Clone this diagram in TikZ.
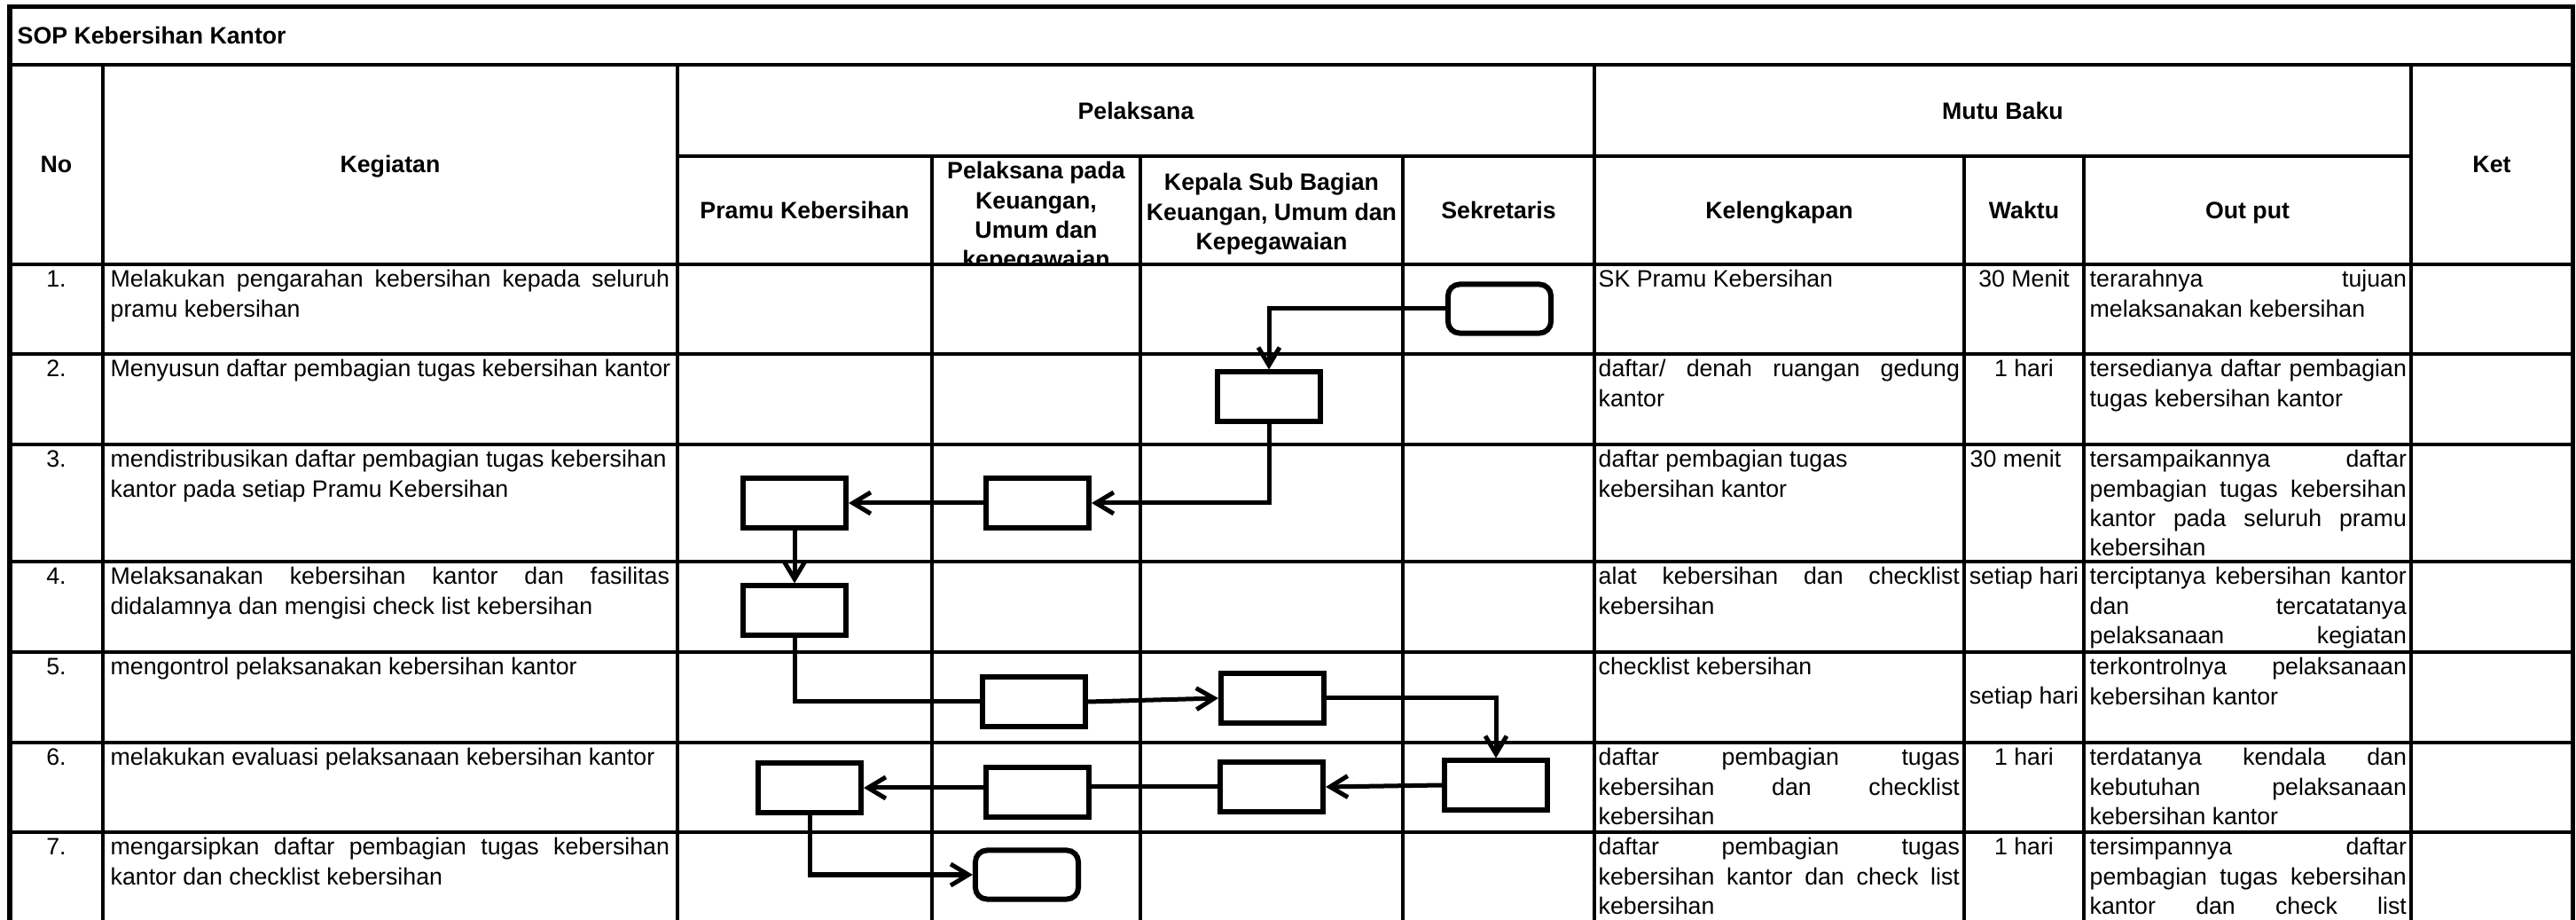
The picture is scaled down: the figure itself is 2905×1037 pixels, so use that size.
\documentclass[tikz,border=0pt]{standalone}
\usepackage{fontspec}
\setmainfont{Liberation Sans}
\usetikzlibrary{arrows.meta}
\newcommand\cellv[2]{\vtop{\hsize=#1\baselineskip=9.39pt\lineskiplimit=-100pt\lineskip=0pt #2}}
\newcommand\lnJ[1]{\hbox to\hsize{#1}}
\newcommand\lnL[1]{\hbox{#1}}
\newcommand\lnC[1]{\hbox to\hsize{\hfil#1\hfil}}
\tikzset{
  gridline/.style={line width=0.035cm},
  outerline/.style={line width=0.05cm},
  txt/.style={inner sep=0pt, font=\fontsize{7.6pt}{9.39pt}\selectfont},
  hd/.style={inner sep=0pt, font=\bfseries\fontsize{7.6pt}{9.39pt}\selectfont},
  stepbox/.style={draw, line width=0.06cm, fill=white, minimum width=1.16cm, minimum height=0.55cm, inner sep=0pt},
  termbox/.style={stepbox, rounded corners=0.13cm},
  flow/.style={line width=0.05cm, -{Straight Barb[length=0.2cm,width=0.24cm]}},
  link/.style={line width=0.05cm},
}
\begin{document}
\begin{tikzpicture}[x=0.01cm,y=-0.01cm]
\useasboundingbox (0,0) rectangle (2905,1037);
\clip (0,0) rectangle (2905,1037);

% ---------- header texts ----------
\node[hd, anchor=base west] (title) at (19,50) {SOP Kebersihan Kantor};
\node[hd, anchor=base] (hno) at (63.5,195) {No};
\node[hd, anchor=base] (hkeg) at (440,195) {Kegiatan};
\node[hd, anchor=base] (hpel) at (1281,135) {Pelaksana};
\node[hd, anchor=base] (hmutu) at (2258.5,135) {Mutu Baku};
\node[hd, anchor=base] (hket) at (2810,195) {Ket};
\node[hd, anchor=base] (hpramu) at (907.5,247) {Pramu Kebersihan};
\begin{scope}
  \clip (1051,176) rectangle (1286,298);
  \node[hd, anchor=base] (hpp) at (1168.5,202) {\cellv{2.30cm}{\lnC{Pelaksana pada}\lnC{Keuangan,}\lnC{Umum dan}\lnC{kepegawaian}}};
\end{scope}
\node[hd, anchor=base] (hkep) at (1434,215) {\cellv{2.94cm}{\lnC{Kepala Sub Bagian}\lnC{Keuangan, Umum dan}\lnC{Kepegawaian}}};
\node[hd, anchor=base] (hsek) at (1690,247) {Sekretaris};
\node[hd, anchor=base] (hkel) at (2006.5,247) {Kelengkapan};
\node[hd, anchor=base] (hwak) at (2282.5,247) {Waktu};
\node[hd, anchor=base] (hout) at (2534.5,247) {Out put};

% ---------- row 1 ----------
\node[txt, anchor=base] (n1) at (63.5,324) {1.};
\node[txt, anchor=base west] (k1) at (124,324) {\cellv{6.30cm}{\lnJ{Melakukan pengarahan kebersihan kepada seluruh}\lnL{pramu kebersihan}}};
\node[txt, anchor=base west] (l1) at (1802,324) {SK Pramu Kebersihan};
\node[txt, anchor=base] (w1) at (2282.5,324) {30 Menit};
\node[txt, anchor=base west] (o1) at (2356,324) {\cellv{3.57cm}{\lnJ{terarahnya tujuan}\lnL{melaksanakan kebersihan}}};

% ---------- row 2 ----------
\node[txt, anchor=base] (n2) at (63.5,425) {2.};
\node[txt, anchor=base west] (k2) at (124,425) {Menyusun daftar pembagian tugas kebersihan kantor};
\node[txt, anchor=base west] (l2) at (1802,425) {\cellv{4.07cm}{\lnJ{daftar/ denah ruangan gedung}\lnL{kantor}}};
\node[txt, anchor=base] (w2) at (2282.5,425) {1 hari};
\node[txt, anchor=base west] (o2) at (2356,425) {\cellv{3.57cm}{\lnJ{tersedianya daftar pembagian}\lnL{tugas kebersihan kantor}}};

% ---------- row 3 ----------
\node[txt, anchor=base] (n3) at (63.5,527) {3.};
\node[txt, anchor=base west] (k3) at (124,527) {\cellv{6.30cm}{\lnL{mendistribusikan daftar pembagian tugas kebersihan}\lnL{kantor pada setiap Pramu Kebersihan}}};
\node[txt, anchor=base west] (l3) at (1802,527) {\cellv{4.07cm}{\lnL{daftar pembagian tugas}\lnL{kebersihan kantor}}};
\node[txt, anchor=base west] (w3) at (2221,527) {30 menit};
\node[txt, anchor=base west] (o3) at (2356,527) {\cellv{3.57cm}{\lnJ{tersampaikannya daftar}\lnJ{pembagian tugas kebersihan}\lnJ{kantor pada seluruh pramu}\lnL{kebersihan}}};

% ---------- row 4 ----------
\node[txt, anchor=base] (n4) at (63.5,659) {4.};
\node[txt, anchor=base west] (k4) at (124,659) {\cellv{6.30cm}{\lnJ{Melaksanakan kebersihan kantor dan fasilitas}\lnL{didalamnya dan mengisi check list kebersihan}}};
\node[txt, anchor=base west] (l4) at (1802,659) {\cellv{4.07cm}{\lnJ{alat kebersihan dan checklist}\lnL{kebersihan}}};
\node[txt, anchor=base] (w4) at (2282.5,659) {setiap hari};
\node[txt, anchor=base west] (o4) at (2356,659) {\cellv{3.57cm}{\lnJ{terciptanya kebersihan kantor}\lnJ{dan tercatatanya}\lnJ{pelaksanaan kegiatan}}};

% ---------- row 5 ----------
\node[txt, anchor=base] (n5) at (63.5,761) {5.};
\node[txt, anchor=base west] (k5) at (124,761) {mengontrol pelaksanakan kebersihan kantor};
\node[txt, anchor=base west] (l5) at (1802,761) {checklist kebersihan};
\node[txt, anchor=base] (w5) at (2282.5,794) {setiap hari};
\node[txt, anchor=base west] (o5) at (2356,761) {\cellv{3.57cm}{\lnJ{terkontrolnya pelaksanaan}\lnL{kebersihan kantor}}};

% ---------- row 6 ----------
\node[txt, anchor=base] (n6) at (63.5,863) {6.};
\node[txt, anchor=base west] (k6) at (124,863) {melakukan evaluasi pelaksanaan kebersihan kantor};
\node[txt, anchor=base west] (l6) at (1802,863) {\cellv{4.07cm}{\lnJ{daftar pembagian tugas}\lnJ{kebersihan dan checklist}\lnL{kebersihan}}};
\node[txt, anchor=base] (w6) at (2282.5,863) {1 hari};
\node[txt, anchor=base west] (o6) at (2356,863) {\cellv{3.57cm}{\lnJ{terdatanya kendala dan}\lnJ{kebutuhan pelaksanaan}\lnL{kebersihan kantor}}};

% ---------- row 7 ----------
\node[txt, anchor=base] (n7) at (63.5,964) {7.};
\node[txt, anchor=base west] (k7) at (124,964) {\cellv{6.30cm}{\lnJ{mengarsipkan daftar pembagian tugas kebersihan}\lnL{kantor dan checklist kebersihan}}};
\node[txt, anchor=base west] (l7) at (1802,964) {\cellv{4.07cm}{\lnJ{daftar pembagian tugas}\lnJ{kebersihan kantor dan check list}\lnL{kebersihan}}};
\node[txt, anchor=base] (w7) at (2282.5,964) {1 hari};
\node[txt, anchor=base west] (o7) at (2356,964) {\cellv{3.57cm}{\lnJ{tersimpannya daftar}\lnJ{pembagian tugas kebersihan}\lnJ{kantor dan check list}}};

% ---------- grid ----------
\draw[gridline] (11,73) -- (2901,73);
\draw[gridline] (764,176) -- (2719,176);
\foreach \y in {298,399,501,633,735,837,938} \draw[gridline] (11,\y) -- (2901,\y);
\foreach \x in {116,764,1798,2719} \draw[gridline] (\x,73) -- (\x,1100);
\foreach \x in {1051,1286,1582,2215,2350} \draw[gridline] (\x,176) -- (\x,1100);
\draw[outerline] (11,1100) -- (11,8) -- (2901,8) -- (2901,1100);

% ---------- flow boxes ----------
\node[termbox] (b1) at (1691,348) {};
\node[stepbox] (b2) at (1431,447) {};
\node[stepbox] (b3) at (1170,567) {};
\node[stepbox] (b4) at (896,567) {};
\node[stepbox] (b5) at (896,688) {};
\node[stepbox] (b6) at (1166,791) {};
\node[stepbox] (b7) at (1435,787) {};
\node[stepbox] (b8) at (1687,885) {};
\node[stepbox] (b9) at (1434,887) {};
\node[stepbox] (b10) at (1170,893) {};
\node[stepbox] (b11) at (913,888) {};
\node[termbox] (b12) at (1158,986) {};

% ---------- connectors ----------
\draw[flow] (b1.west) -| (b2.north);
\draw[flow] (b2.south) |- (b3.east);
\draw[flow] (b3.west) -- (b4.east);
\draw[flow] (b4.south) -- (b5.north);
\draw[link] (b5.south) |- (b6.west);
\draw[flow] (b6.east) -- (b7.west);
\draw[flow] (b7.east) -| (b8.north);
\draw[flow] (b8.west) -- (b9.east);
\draw[link] (b9.west) -- (b9.west -| b10.east);
\draw[flow] (b11.east -| b10.west) -- (b11.east);
\draw[flow] (b11.south) |- (b12.west);
\end{tikzpicture}
\end{document}
